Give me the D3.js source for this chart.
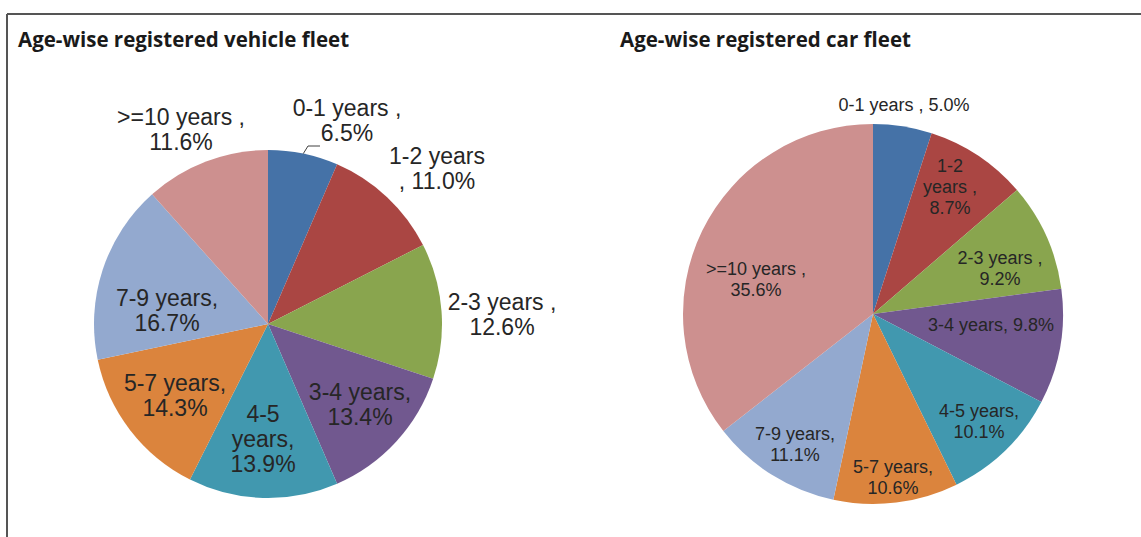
<!DOCTYPE html>
<html>
<head>
<meta charset="utf-8">
<script src="https://cdn.jsdelivr.net/npm/d3@7"></script>
<style>
  body { margin: 0; background: #fff; }
  .title { font-family: "Open Sans", sans-serif; font-weight: 700; fill: #1a1a1a; }
  .lbl { font-family: "Liberation Sans", Arial, sans-serif; fill: #262626; }
</style>
</head>
<body>
<div id="chart"></div>
<script>
// age groups, clockwise from 12 o'clock
var categories = ["0-1", "1-2", "2-3", "3-4", "4-5", "5-7", "7-9", ">=10"];
var vehicleShares = [6.5, 11.0, 12.6, 13.4, 13.9, 14.3, 16.7, 11.6];
var carShares = [5.0, 8.7, 9.2, 9.8, 10.1, 10.6, 11.1, 35.6];
var titles = ["Age-wise registered vehicle fleet", "Age-wise registered car fleet"];

// how each label is broken into lines ("|" = new line)
var vehicleLabelText = ["{c} years ,|{v}", "{c} years|, {v}", "{c} years ,|{v}", "{c} years,|{v}",
                        "{c}|years,|{v}", "{c} years,|{v}", "{c} years,|{v}", "{c} years ,|{v}"];
var carLabelText = ["{c} years , {v}", "{c}|years ,|{v}", "{c} years ,|{v}", "{c} years, {v}",
                    "{c} years,|{v}", "{c} years,|{v}", "{c} years,|{v}", "{c} years ,|{v}"];

var colors = ["#4572A7", "#AA4643", "#89A54E", "#71588F", "#4198AF", "#DB843D", "#93A9CF", "#CD908F"];

var W = 1141, H = 537;
var svg = d3.select("#chart").append("svg")
  .attr("width", W)
  .attr("height", H);

svg.append("rect").attr("width", W).attr("height", H).attr("fill", "#fff");

// frame (only top and left visible)
svg.append("line").attr("x1", 7).attr("x2", W).attr("y1", 14).attr("y2", 14)
  .attr("stroke", "#555").attr("stroke-width", 2);
svg.append("line").attr("x1", 7).attr("x2", 7).attr("y1", 14).attr("y2", H)
  .attr("stroke", "#555").attr("stroke-width", 2);

var fmt = d3.format(".1f");

function drawPie(opts) {
  var g = svg.append("g").attr("transform", "translate(" + opts.cx + "," + opts.cy + ")");

  var data = opts.values.map(function(v, i) { return {name: categories[i], value: v, i: i}; });

  var pie = d3.pie().sort(null).value(function(d) { return d.value; });
  var arc = d3.arc().innerRadius(0).outerRadius(opts.r);
  var arcs = pie(data);

  g.selectAll("path.slice")
    .data(arcs)
    .enter()
    .append("path")
      .attr("class", "slice")
      .attr("d", arc)
      .attr("fill", function(d) { return colors[d.data.i]; });

  // labels
  arcs.forEach(function(d, i) {
    var txt = opts.labelText[i].replace("{c}", d.data.name).replace("{v}", fmt(d.data.value) + "%");
    var lines = txt.split("|");
    var off = opts.labelPos[i];
    var y0 = off[1] - (lines.length - 1) * opts.lineH / 2;
    var t = g.append("text")
      .attr("class", "lbl")
      .attr("text-anchor", "middle")
      .style("font-size", opts.fontSize + "px");
    lines.forEach(function(s, k) {
      t.append("tspan")
        .attr("x", off[0])
        .attr("y", y0 + k * opts.lineH + opts.fontSize * 0.36)
        .text(s);
    });
  });

  if (opts.leader) {
    var edge = d3.arc().innerRadius(opts.r).outerRadius(opts.r).centroid(arcs[opts.leader.i]);
    g.append("path")
      .attr("d", d3.line()([edge, opts.leader.p1, opts.leader.p2]))
      .attr("fill", "none")
      .attr("stroke", "#404040")
      .attr("stroke-width", 1);
  }

  svg.append("text")
    .attr("class", "title")
    .attr("x", opts.tx)
    .attr("y", 47)
    .style("font-size", "20.5px")
    .text(opts.title);
}

drawPie({
  cx: 268, cy: 324, r: 174,
  values: vehicleShares, labelText: vehicleLabelText,
  title: titles[0], tx: 18,
  fontSize: 23, lineH: 25,
  labelPos: [[79, -204], [169, -156], [234, -10], [92, 80], [-5, 115], [-93, 71], [-101, -14], [-87, -195]],
  leader: {i: 0, p1: [40, -178], p2: [52, -178]}
});

drawPie({
  cx: 873, cy: 314, r: 190,
  values: carShares, labelText: carLabelText,
  title: titles[1], tx: 620,
  fontSize: 18, lineH: 21,
  labelPos: [[31, -209], [77, -127], [127, -46], [118, 11], [106, 107], [20, 163], [-78, 130], [-117, -35]]
});
</script>
</body>
</html>
